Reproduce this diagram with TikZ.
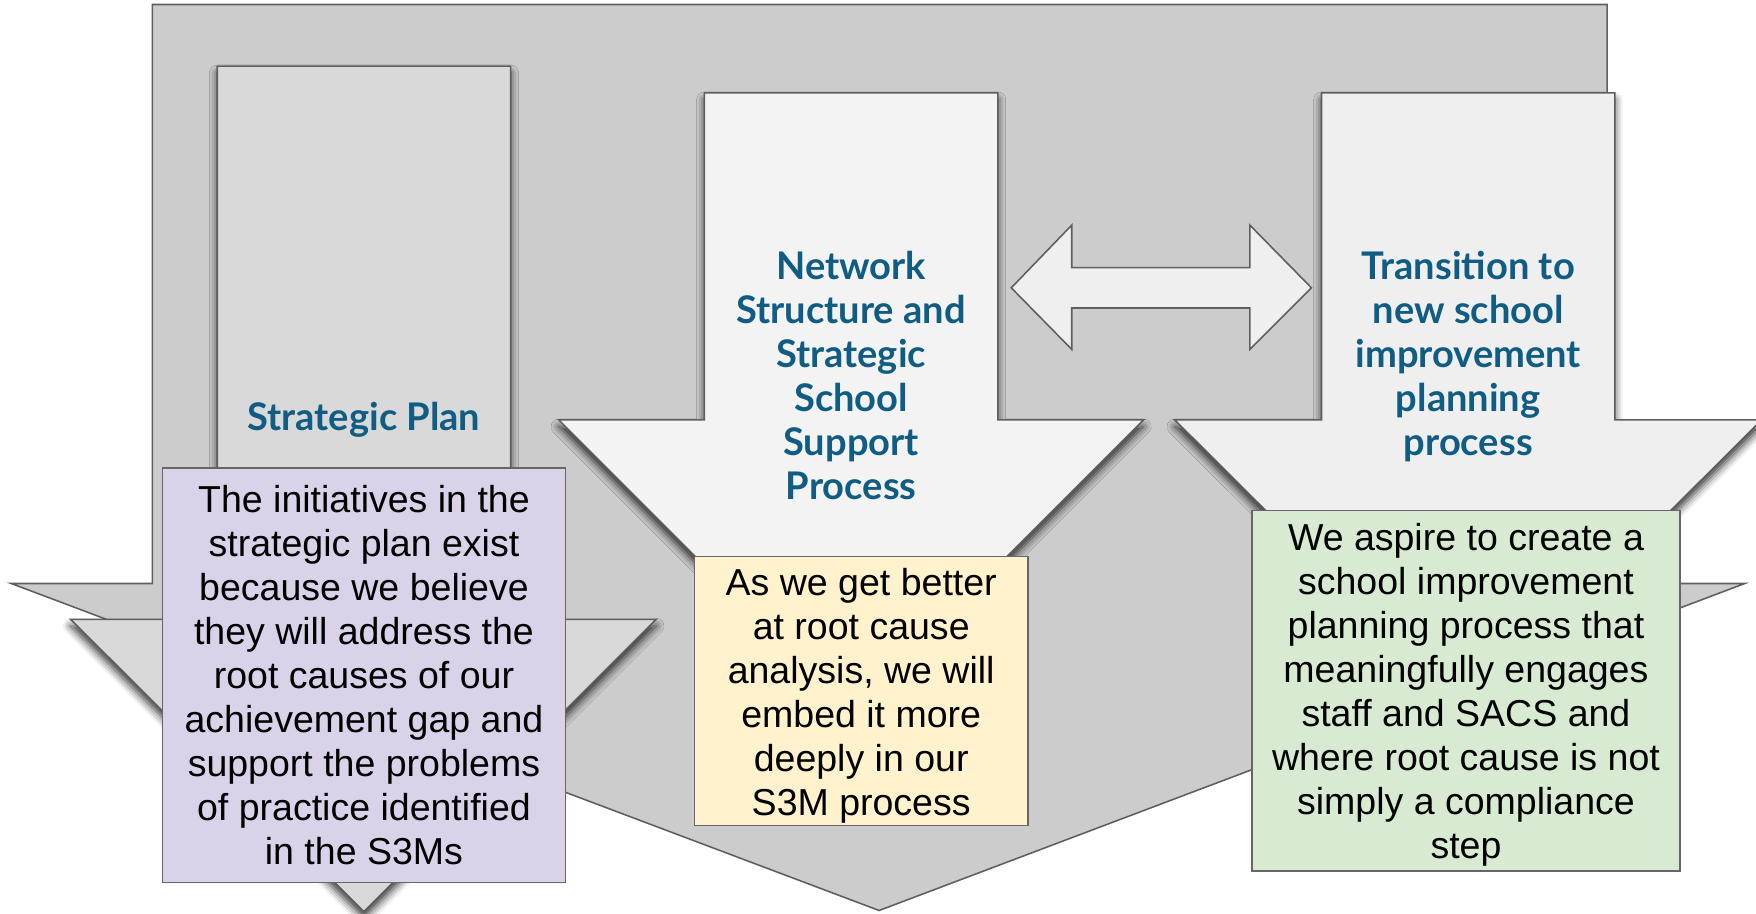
\documentclass[tikz,border=0pt]{standalone}
\usepackage{fontspec}
\setmainfont{Liberation Sans}
\newfontfamily\titlefont{Lato}
\usetikzlibrary{shadows.blur}
\definecolor{outerfill}{HTML}{CCCCCC}
\definecolor{linegray}{HTML}{5F5F5F}
\definecolor{boxline}{HTML}{666666}
\definecolor{spfill}{HTML}{D9D9D9}
\definecolor{netfill}{HTML}{F3F3F3}
\definecolor{trfill}{HTML}{EFEFEF}
\definecolor{titleblue}{HTML}{105C82}
\definecolor{purplebox}{HTML}{D9D2E9}
\definecolor{yellowbox}{HTML}{FFF2CC}
\definecolor{greenbox}{HTML}{D9EAD3}
\begin{document}
\begin{tikzpicture}[x=1pt,y=-1pt,
  arrowshape/.style={draw=linegray, line width=1.4pt, line join=miter},
  shadowed/.style={blur shadow={shadow xshift=0pt, shadow yshift=-6pt, shadow blur radius=7pt, shadow opacity=80}},
  titletext/.style={text=titleblue, font=\titlefont\bfseries\fontsize{34}{39.3}\selectfont, align=center, inner sep=0pt},
  notebox/.style={draw=boxline, line width=1.4pt, inner sep=0pt},
  notetext/.style={align=center, inner sep=0pt, font=\fontsize{33.5}{39.3}\selectfont},
]
\useasboundingbox (0,0) rectangle (1568,815.3);
\begin{scope}
\clip (0,0) rectangle (1568,815.3);
% big background arrow
\path[arrowshape, fill=outerfill] (136,4) -- (1435,4) -- (1435,521) -- (1558,521) -- (785,813) -- (10,521) -- (136,521) -- cycle;
% strategic plan arrow
\path[arrowshape, fill=spfill, shadowed] (194,59) -- (456,59) -- (456,553) -- (586,553) -- (325,814) -- (63,553) -- (194,553) -- cycle;
% network arrow
\path[arrowshape, fill=netfill, shadowed] (629,83) -- (891,83) -- (891,375) -- (1021,375) -- (760,636) -- (499,375) -- (629,375) -- cycle;
% transition arrow
\path[arrowshape, fill=trfill, shadowed] (1180,83) -- (1442,83) -- (1442,375) -- (1573,375) -- (1311,636) -- (1049,375) -- (1180,375) -- cycle;
% double arrow
\path[arrowshape, fill=trfill] (903,257) -- (957,201) -- (957,239) -- (1116,239) -- (1116,201) -- (1171,257) -- (1116,312) -- (1116,275) -- (957,275) -- (957,312) -- cycle;
\end{scope}
% titles
\node[titletext] (sptitle) at (325,375) {Strategic Plan};
\node[titletext] (nettitle) at (760,335) {Network\\Structure and\\Strategic\\School\\Support\\Process};
\node[titletext] (trtitle) at (1311,318) {Transition to\\new school\\improvement\\planning\\process};
% note boxes
\node[notebox, fill=purplebox, minimum width=360pt, minimum height=370pt] (spnote) at (325,603) {};
\node[notetext] (spnotetext) at (325,603)
  {The initiatives in the\\strategic plan exist\\because we believe\\they will address the\\root causes of our\\achievement gap and\\support the problems\\of practice identified\\in the S3Ms};
\node[notebox, fill=yellowbox, minimum width=298pt, minimum height=240pt] (netnote) at (769,617) {};
\node[notetext] (netnotetext) at (769,621)
  {As we get better\\at root cause\\analysis, we will\\embed it more\\deeply in our\\S3M process};
\node[notebox, fill=greenbox, minimum width=382pt, minimum height=321.5pt] (trnote) at (1309,616.75) {};
\node[notetext] (trnotetext) at (1309,620.5)
  {We aspire to create a\\school improvement\\planning process that\\meaningfully engages\\staff and SACS and\\where root cause is not\\simply a compliance\\step};
\end{tikzpicture}
\end{document}
